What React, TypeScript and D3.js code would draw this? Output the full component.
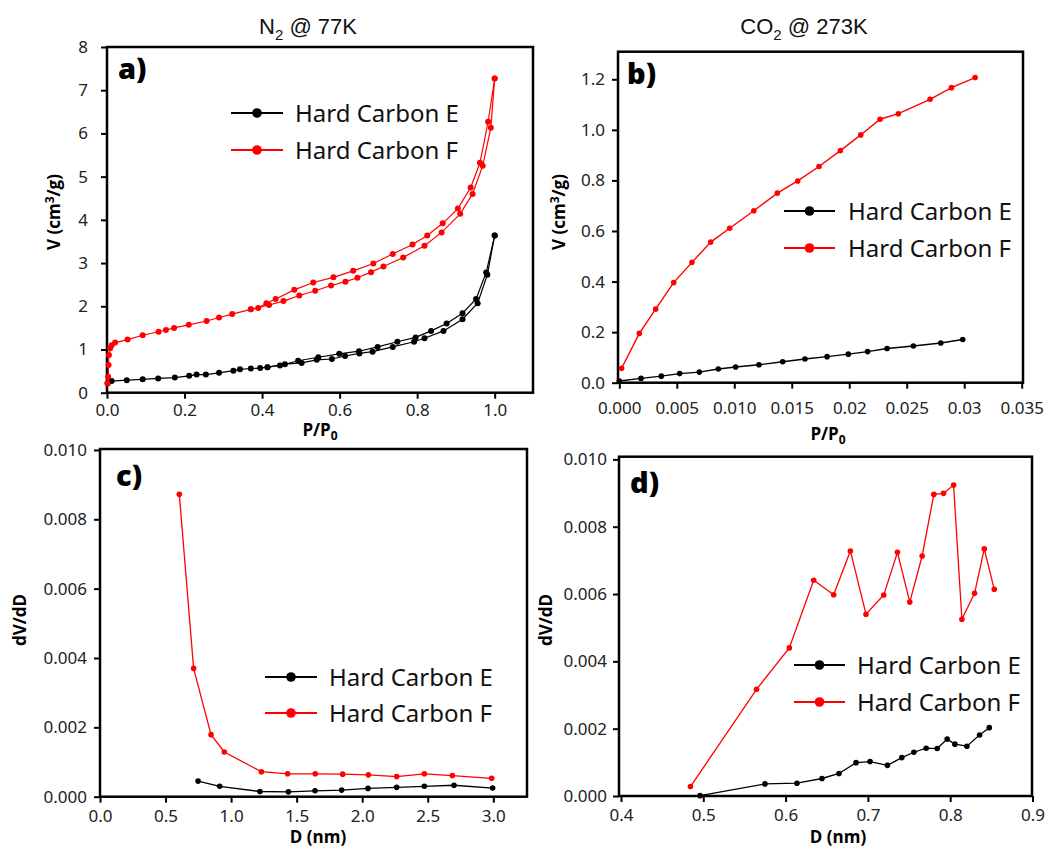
import { useEffect, useRef } from "react";
import * as d3 from "d3";

type Pt = [number, number];

// a) N2 @ 77K isotherms, x = P/P0, y = V (cm3/g)
const n2E_ads: Pt[] = [
  [0.002, 0.22], [0.012, 0.27], [0.051, 0.29], [0.092, 0.31], [0.132, 0.33],
  [0.175, 0.35], [0.212, 0.39], [0.231, 0.42], [0.255, 0.42], [0.289, 0.46],
  [0.326, 0.51], [0.343, 0.54], [0.371, 0.56], [0.395, 0.57], [0.414, 0.59],
  [0.459, 0.66], [0.502, 0.69], [0.541, 0.76], [0.58, 0.78], [0.614, 0.85],
  [0.651, 0.91], [0.685, 0.95], [0.737, 1.06], [0.792, 1.18], [0.819, 1.26],
  [0.868, 1.43], [0.917, 1.7], [0.956, 2.07], [0.981, 2.73], [1.0, 3.64],
];
const n2E_des: Pt[] = [
  [1.0, 3.64], [0.978, 2.78], [0.952, 2.17], [0.917, 1.84], [0.876, 1.6],
  [0.836, 1.43], [0.796, 1.28], [0.749, 1.18], [0.698, 1.06], [0.65, 0.96],
  [0.599, 0.9], [0.545, 0.82], [0.493, 0.74], [0.446, 0.63], [0.414, 0.59],
];
const n2F_ads: Pt[] = [
  [0.001, 0.22], [0.003, 0.37], [0.004, 0.64], [0.005, 0.87], [0.008, 1.03],
  [0.012, 1.1], [0.021, 1.16], [0.053, 1.23], [0.092, 1.33], [0.133, 1.41],
  [0.152, 1.45], [0.173, 1.5], [0.211, 1.57], [0.257, 1.66], [0.289, 1.74],
  [0.323, 1.82], [0.371, 1.93], [0.418, 2.03], [0.455, 2.12], [0.496, 2.25],
  [0.537, 2.36], [0.578, 2.48], [0.615, 2.57], [0.646, 2.66], [0.681, 2.79],
  [0.713, 2.92], [0.764, 3.13], [0.819, 3.4], [0.863, 3.71], [0.911, 4.14],
  [0.943, 4.6], [0.969, 5.25], [0.99, 6.13], [1.0, 7.27],
];
const n2F_des: Pt[] = [
  [1.0, 7.27], [0.983, 6.27], [0.962, 5.32], [0.938, 4.75], [0.905, 4.26],
  [0.866, 3.92], [0.826, 3.64], [0.788, 3.43], [0.737, 3.21], [0.687, 2.99],
  [0.635, 2.82], [0.584, 2.67], [0.532, 2.55], [0.483, 2.38], [0.435, 2.17],
  [0.411, 2.07], [0.39, 1.96], [0.371, 1.93],
];

// b) CO2 @ 273K isotherms
const co2E: Pt[] = [
  [0.0, 0.007], [0.00189, 0.017], [0.00365, 0.026], [0.00525, 0.036],
  [0.00696, 0.042], [0.00861, 0.054], [0.01012, 0.062], [0.01215, 0.071],
  [0.01421, 0.083], [0.01615, 0.094], [0.01807, 0.103], [0.01992, 0.113],
  [0.0216, 0.123], [0.02329, 0.135], [0.02558, 0.145], [0.02796, 0.157],
  [0.02987, 0.171],
];
const co2F: Pt[] = [
  [0.0002, 0.057], [0.00174, 0.195], [0.00316, 0.291], [0.00473, 0.396],
  [0.00632, 0.476], [0.00795, 0.556], [0.0096, 0.611], [0.0117, 0.68],
  [0.01375, 0.75], [0.01552, 0.798], [0.01737, 0.855], [0.01923, 0.918],
  [0.021, 0.98], [0.02268, 1.042], [0.02427, 1.064], [0.02703, 1.121],
  [0.02889, 1.167], [0.03095, 1.207],
];

// c) pore size distribution from N2
const psdN2E: Pt[] = [
  [0.748, 0.00045], [0.913, 0.0003], [1.22, 0.00015], [1.437, 0.00014],
  [1.64, 0.00017], [1.843, 0.00019], [2.044, 0.00024], [2.263, 0.00027],
  [2.474, 0.0003], [2.7, 0.00033], [2.995, 0.00025],
];
const psdN2F: Pt[] = [
  [0.605, 0.00872], [0.714, 0.0037], [0.847, 0.00179], [0.948, 0.00129],
  [1.231, 0.00072], [1.431, 0.00066], [1.642, 0.00066], [1.851, 0.00065],
  [2.047, 0.00063], [2.263, 0.00058], [2.474, 0.00066], [2.688, 0.00061],
  [2.987, 0.00053],
];

// d) pore size distribution from CO2
const psdCO2E: Pt[] = [
  [0.496, 0.00001], [0.5749, 0.00036], [0.6138, 0.00038], [0.6442, 0.00052],
  [0.6649, 0.00067], [0.6856, 0.00099], [0.7026, 0.00102], [0.7237, 0.00091],
  [0.7412, 0.00114], [0.7558, 0.0013], [0.7708, 0.00142], [0.7842, 0.00141],
  [0.7963, 0.00169], [0.8057, 0.00154], [0.8203, 0.00148], [0.8357, 0.00181],
  [0.8475, 0.00203],
];
const psdCO2F: Pt[] = [
  [0.4844, 0.00028], [0.5647, 0.00317], [0.6045, 0.0044], [0.6341, 0.00641],
  [0.6584, 0.00598], [0.6787, 0.00728], [0.6977, 0.0054], [0.7193, 0.00597],
  [0.7359, 0.00724], [0.7509, 0.00576], [0.7659, 0.00713], [0.7801, 0.00896],
  [0.7919, 0.00899], [0.8041, 0.00924], [0.8142, 0.00525], [0.8296, 0.00602],
  [0.8414, 0.00734], [0.8535, 0.00614],
];

const seriesNames = ["Hard Carbon E", "Hard Carbon F"];
const aXTicks = [0, 0.2, 0.4, 0.6, 0.8, 1.0];
const aYTicks = [0, 1, 2, 3, 4, 5, 6, 7, 8];
const bXTicks = [0, 0.005, 0.01, 0.015, 0.02, 0.025, 0.03, 0.035];
const bXLabels = ["0.000", "0.005", "0.010", "0.015", "0.02", "0.025", "0.03", "0.035"];
const bYTicks = [0, 0.2, 0.4, 0.6, 0.8, 1.0, 1.2];
const cXTicks = [0, 0.5, 1.0, 1.5, 2.0, 2.5, 3.0];
const psdYTicks = [0, 0.002, 0.004, 0.006, 0.008, 0.01];
const dXTicks = [0.4, 0.5, 0.6, 0.7, 0.8, 0.9];

const RED = "#ff0000";
const BLACK = "#000000";
const tickFont = "'Noto Sans', 'Open Sans', sans-serif";
const boldFont = "'Open Sans', 'Noto Sans', sans-serif";

const panels = [
  {
    letter: "a)", letterX: 118, letterY: 79,
    frame: { x0: 107, x1: 533, y0: 47, y1: 392.7 },
    xd: [0, 1.0], xr: [107, 494.7], yd: [0, 8], yr: [392.7, 47],
    xTicks: aXTicks, xFmt: (d: number) => d.toFixed(1), xPad: 5,
    yTicks: aYTicks, yFmt: (d: number) => d.toFixed(0), yPad: 13,
    series: [
      { pts: n2E_ads, color: BLACK }, { pts: n2E_des, color: BLACK },
      { pts: n2F_ads, color: RED }, { pts: n2F_des, color: RED },
    ],
    r: 3, lw: 1.2,
    legend: { x0: 231, x1: 283, tx: 295, y: [113, 150] },
    yLabel: { x: 60, y: 212 }, xLabel: { x: 320, y: 436, kind: "p" },
  },
  {
    letter: "b)", letterX: 627, letterY: 84,
    frame: { x0: 618, x1: 1023, y0: 51.7, y1: 382.7 },
    xd: [0, 0.035], xr: [619.3, 1021.7], yd: [0, 1.2], yr: [382.7, 79.3],
    xTicks: bXTicks, xFmt: (d: number) => bXLabels[bXTicks.indexOf(d)], xPad: 13,
    yTicks: bYTicks, yFmt: (d: number) => d.toFixed(1), yPad: 7,
    series: [{ pts: co2E, color: BLACK }, { pts: co2F, color: RED }],
    r: 2.8, lw: 1.4,
    legend: { x0: 784, x1: 835, tx: 848, y: [211, 248] },
    yLabel: { x: 565, y: 212 }, xLabel: { x: 828, y: 440, kind: "p" },
  },
  {
    letter: "c)", letterX: 116, letterY: 486,
    frame: { x0: 100, x1: 527, y0: 449, y1: 796.7 },
    xd: [0, 3.0], xr: [100, 493.3], yd: [0, 0.008], yr: [796.7, 519.3],
    xTicks: cXTicks, xFmt: (d: number) => d.toFixed(1), xPad: 7,
    yTicks: psdYTicks, yFmt: (d: number) => d.toFixed(3), yPad: 7,
    series: [{ pts: psdN2E, color: BLACK }, { pts: psdN2F, color: RED }],
    r: 2.8, lw: 1.3,
    legend: { x0: 265, x1: 317, tx: 329, y: [677, 713] },
    yLabel: { x: 26, y: 620 }, xLabel: { x: 318, y: 843, kind: "d" },
  },
  {
    letter: "d)", letterX: 630, letterY: 493,
    frame: { x0: 619, x1: 1032, y0: 456.7, y1: 796 },
    xd: [0.4, 0.9], xr: [621, 1032.5], yd: [0, 0.008], yr: [796, 526.7],
    xTicks: dXTicks, xFmt: (d: number) => d.toFixed(1), xPad: 7,
    yTicks: psdYTicks, yFmt: (d: number) => d.toFixed(3), yPad: 6,
    series: [{ pts: psdCO2E, color: BLACK }, { pts: psdCO2F, color: RED }],
    r: 2.8, lw: 1.3,
    legend: { x0: 794, x1: 845, tx: 857, y: [665, 702] },
    yLabel: { x: 552, y: 620 }, xLabel: { x: 838, y: 843, kind: "d" },
  },
];

export default function App() {
  const svgRef = useRef<SVGSVGElement>(null);

  useEffect(() => {
    const el = svgRef.current;
    if (!el) return;
    const svg = d3.select(el);
    svg.selectAll("*").remove();

    svg.append("rect").attr("width", 1049).attr("height", 847).attr("fill", "#fff");

    // Titles
    const title = (x: number, main: string, rest: string) => {
      const t = svg
        .append("text")
        .attr("x", x)
        .attr("y", 34)
        .attr("text-anchor", "middle")
        .attr("font-family", "'Liberation Sans', Arial, sans-serif")
        .attr("font-size", 22)
        .attr("fill", "#111");
      t.append("tspan").text(main);
      t.append("tspan").attr("font-size", 15).attr("dy", 6).text("2");
      t.append("tspan").attr("dy", -6).text(rest);
    };
    title(308, "N", " @ 77K");
    title(804, "CO", " @ 273K");

    panels.forEach((p) => {
      const xs = d3.scaleLinear().domain(p.xd).range(p.xr);
      const ys = d3.scaleLinear().domain(p.yd).range(p.yr);
      const g = svg.append("g");

      // Axes
      const gx = g
        .append("g")
        .attr("transform", `translate(0,${p.frame.y1})`)
        .call(
          d3.axisBottom(xs).tickValues(p.xTicks).tickFormat(p.xFmt as any)
            .tickSize(6).tickSizeOuter(0).tickPadding(p.xPad),
        );
      const gy = g
        .append("g")
        .attr("transform", `translate(${p.frame.x0},0)`)
        .call(
          d3.axisLeft(ys).tickValues(p.yTicks).tickFormat(p.yFmt as any)
            .tickSize(6).tickSizeOuter(0).tickPadding(p.yPad),
        );
      [gx, gy].forEach((ax) => {
        ax.select(".domain").remove();
        ax.selectAll(".tick line").attr("stroke", BLACK).attr("stroke-width", 2);
        ax.selectAll(".tick text")
          .attr("fill", "#222")
          .style("font-size", "17px")
          .style("font-family", tickFont);
      });

      // Frame
      g.append("rect")
        .attr("x", p.frame.x0)
        .attr("y", p.frame.y0)
        .attr("width", p.frame.x1 - p.frame.x0)
        .attr("height", p.frame.y1 - p.frame.y0)
        .attr("fill", "none")
        .attr("stroke", BLACK)
        .attr("stroke-width", 2.5);

      // Series
      const line = d3
        .line<Pt>()
        .x((d) => xs(d[0]))
        .y((d) => ys(d[1]));
      p.series.forEach((s) => {
        g.append("path")
          .datum(s.pts)
          .attr("fill", "none")
          .attr("stroke", s.color)
          .attr("stroke-width", p.lw)
          .attr("d", line);
        g.selectAll(null)
          .data(s.pts)
          .enter()
          .append("circle")
          .attr("cx", (d) => xs(d[0]))
          .attr("cy", (d) => ys(d[1]))
          .attr("r", p.r)
          .attr("fill", s.color);
      });

      // Legend
      [BLACK, RED].forEach((c, i) => {
        const ly = p.legend.y[i];
        g.append("line")
          .attr("x1", p.legend.x0)
          .attr("x2", p.legend.x1)
          .attr("y1", ly)
          .attr("y2", ly)
          .attr("stroke", c)
          .attr("stroke-width", 2);
        g.append("circle")
          .attr("cx", (p.legend.x0 + p.legend.x1) / 2)
          .attr("cy", ly)
          .attr("r", 4.8)
          .attr("fill", c);
        g.append("text")
          .attr("x", p.legend.tx)
          .attr("y", ly + 8.5)
          .attr("fill", "#111")
          .style("font-size", "24px")
          .style("font-family", tickFont)
          .text(seriesNames[i]);
      });

      // Panel letter
      g.append("text")
        .attr("x", p.letterX)
        .attr("y", p.letterY)
        .attr("font-weight", 800)
        .style("font-size", "29px")
        .style("font-family", boldFont)
        .text(p.letter);

      // Y label
      const yl = g
        .append("text")
        .attr("transform", `translate(${p.yLabel.x},${p.yLabel.y}) rotate(-90)`)
        .attr("text-anchor", "middle")
        .attr("font-weight", "bold")
        .style("font-size", "17px")
        .style("font-family", boldFont);
      if (p.xLabel.kind === "p") {
        yl.append("tspan").text("V (cm");
        yl.append("tspan").attr("font-size", 12).attr("dy", -6).text("3");
        yl.append("tspan").attr("dy", 6).text("/g)");
      } else {
        yl.text("dV/dD");
      }

      // X label
      const xl = g
        .append("text")
        .attr("x", p.xLabel.x)
        .attr("y", p.xLabel.y)
        .attr("text-anchor", "middle")
        .attr("font-weight", "bold")
        .style("font-size", "17px")
        .style("font-family", boldFont);
      if (p.xLabel.kind === "p") {
        xl.append("tspan").text("P/P");
        xl.append("tspan").attr("font-size", 12).attr("dy", 4).text("0");
      } else {
        xl.text("D (nm)");
      }
    });
  }, []);

  return (
    <svg
      ref={svgRef}
      width={1049}
      height={847}
      style={{ position: "absolute", left: 0, top: 0 }}
    />
  );
}
